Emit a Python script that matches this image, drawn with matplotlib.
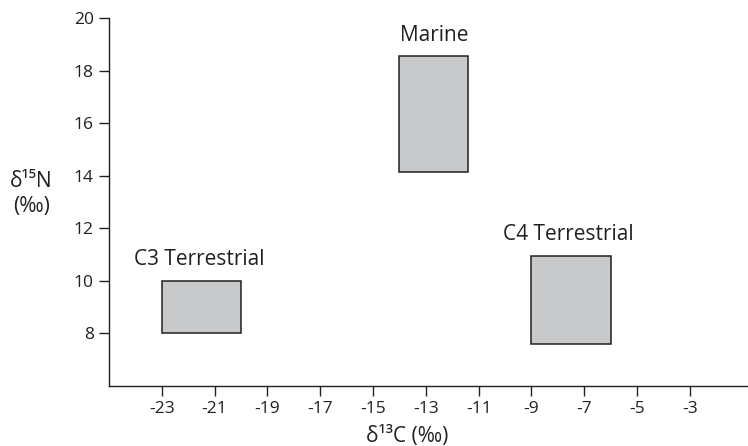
import matplotlib
matplotlib.use('Agg')
import matplotlib.pyplot as plt
from matplotlib.patches import Rectangle

# data: isotope ranges for each group (d13C min/max, d15N min/max)
groups = ['C3 Terrestrial', 'Marine', 'C4 Terrestrial']
c_min = [-23, -14, -9]
c_max = [-20, -11.4, -6]
n_min = [8, 14.15, 7.6]
n_max = [10, 18.55, 10.95]

xticks = [-23, -21, -19, -17, -15, -13, -11, -9, -7, -5, -3]
yticks = [8, 10, 12, 14, 16, 18, 20]

txt = '#231f20'
fill = '#c8c9cb'
plt.rcParams['font.family'] = ['Open Sans', 'DejaVu Sans']

fig = plt.figure(figsize=(7.48, 4.46), dpi=100)
ax = fig.add_axes([0.1457, 0.1345, 0.8543, 0.8251])

for i in range(len(groups)):
    ax.add_patch(Rectangle((c_min[i], n_min[i]), c_max[i] - c_min[i], n_max[i] - n_min[i],
                           facecolor=fill, edgecolor=txt, lw=1.1))

# group labels
fs = 15
ax.text((c_min[1] + c_max[1]) / 2, n_max[1] + 0.4, groups[1], ha='center', va='bottom',
        fontsize=fs, color=txt)
ax.text(-21.6, n_max[0] + 0.4, groups[0], ha='center', va='bottom', fontsize=fs, color=txt)
ax.text(-7.6, n_max[2] + 0.4, groups[2], ha='center', va='bottom', fontsize=fs, color=txt)

ax.set_xlim(-25, -0.8)
ax.set_ylim(6, 20)
ax.set_xticks(xticks)
ax.set_xticklabels([str(v) for v in xticks])
ax.set_yticks(yticks)
ax.set_yticklabels([str(v) for v in yticks])
ax.tick_params(direction='out', length=7, width=1, colors=txt, labelsize=12.5, pad=4)

for s in ['top', 'right']:
    ax.spines[s].set_visible(False)
for s in ['left', 'bottom']:
    ax.spines[s].set_color(txt)
    ax.spines[s].set_linewidth(1)

# axis titles
fig.text(0.545, 0.022, 'δ¹³C (‰)', ha='center', va='center', fontsize=fs, color=txt)
fig.text(0.042, 0.565, 'δ¹⁵N\n(‰)', ha='center', va='center', fontsize=fs,
         color=txt, linespacing=1.25)

fig.savefig('out.png', dpi=100)
